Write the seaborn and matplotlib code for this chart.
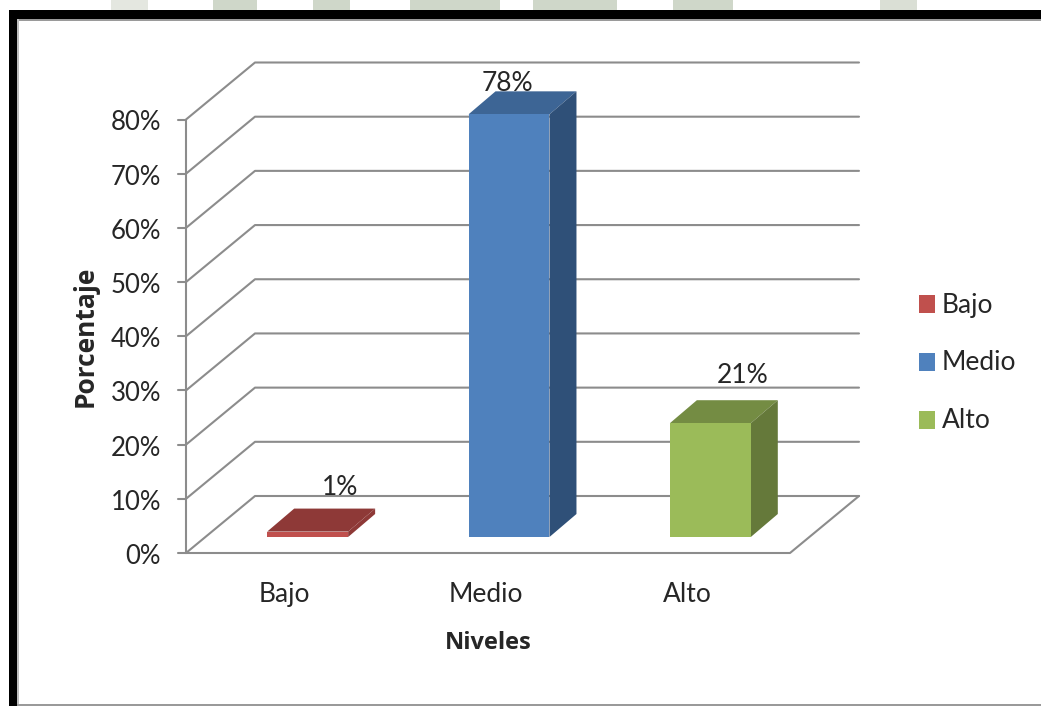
import seaborn as sns
import matplotlib.pyplot as plt
import pandas as pd
from matplotlib.patches import Polygon, Rectangle
from matplotlib.transforms import Affine2D, IdentityTransform

niveles = ['Bajo', 'Medio', 'Alto']
porcentajes = [1, 78, 21]
y_ticks = [0, 10, 20, 30, 40, 50, 60, 70, 80]

# front, top and side face colours
colores = ['#C0504D', '#4F81BD', '#9BBB59']
colores_top = ['#8E3937', '#3D6595', '#748C43']
colores_side = ['#8E3937', '#2F5078', '#65793A']
gris = '#8C8C8C'

W, H = 1041, 706
# 3d offsets in pixels (display coords, y up)
WALL_DX, WALL_DY = 69, 57
BAR_DX, BAR_DY = 21, 16
DEPTH_DX, DEPTH_DY = 27, 23
# value label offset from the top centre of the front face
label_dx = [32, -2, 32]
label_dy = [44, 31, 48]
# bits of the page watermark above the frame: x start, x end, colour
marca = [(111, 148, '#E4E7E0'), (213, 257, '#CFD7C9'), (313, 350, '#CFD7C9'), (410, 500, '#CFD7C9'),
         (533, 617, '#CFD7C9'), (673, 733, '#CFD7C9'), (880, 917, '#DADFD5')]

sns.set_style('white')
plt.rcParams['font.family'] = ['Lato', 'DejaVu Sans']
plt.rcParams['text.color'] = '#262626'
plt.rcParams['xtick.color'] = '#262626'
plt.rcParams['ytick.color'] = '#262626'

df = pd.DataFrame({'nivel': niveles, 'pct': porcentajes})

fig = plt.figure(figsize=(W / 100, H / 100), dpi=100, facecolor='white')
ax = fig.add_axes([186 / W, (H - 553) / H, 604 / W, 433.5 / H])

# seaborn draws the front faces
sns.barplot(data=df, x='nivel', y='pct', hue='nivel', order=niveles, hue_order=niveles,
            palette=colores, saturation=1, width=0.402, dodge=False, legend=False,
            edgecolor='none', linewidth=0, ax=ax)
ax.set_ylim(0, 80)
ax.set_xlim(-0.5, 2.5)
ax.patch.set_alpha(0)
sns.despine(ax=ax, left=True, bottom=True, top=True, right=True)
fig.canvas.draw()

ident = IdentityTransform()
to_px = ax.transData.transform

# walls and gridlines
x0 = to_px((-0.5, 0))[0]
x1 = to_px((2.5, 0))[0]
for v in y_ticks:
    y = to_px((0, v))[1]
    ax.plot([x0, x0 + WALL_DX, x1 + WALL_DX], [y, y + WALL_DY, y + WALL_DY], color=gris, lw=1.5,
            transform=ident, clip_on=False, zorder=1)
    ax.plot([x0 - 8, x0], [y, y], color=gris, lw=1.5, transform=ident, clip_on=False, zorder=1)
y_0 = to_px((0, 0))[1]
y_80 = to_px((0, 80))[1]
ax.plot([x0, x0], [y_0, y_80], color=gris, lw=1.5, transform=ident, clip_on=False, zorder=1)
ax.plot([x0, x1, x1 + WALL_DX], [y_0, y_0, y_0 + WALL_DY], color=gris, lw=1.5,
        transform=ident, clip_on=False, zorder=1)

# move the bars back into the chart and add top and side faces
shift = ax.transData + Affine2D().translate(BAR_DX, BAR_DY)
for i, bar in enumerate(ax.patches):
    bar.set_transform(shift)
    bar.set_clip_on(False)
    bar.set_zorder(4)
    bx0, by0 = shift.transform((bar.get_x(), 0))
    bx1, by1 = shift.transform((bar.get_x() + bar.get_width(), bar.get_height()))
    top = [(bx0, by1), (bx1, by1), (bx1 + DEPTH_DX, by1 + DEPTH_DY), (bx0 + DEPTH_DX, by1 + DEPTH_DY)]
    side = [(bx1, by0), (bx1 + DEPTH_DX, by0 + DEPTH_DY), (bx1 + DEPTH_DX, by1 + DEPTH_DY), (bx1, by1)]
    ax.add_patch(Polygon(top, closed=True, fc=colores_top[i], ec='none', transform=ident,
                         clip_on=False, zorder=3))
    ax.add_patch(Polygon(side, closed=True, fc=colores_side[i], ec='none', transform=ident,
                         clip_on=False, zorder=3))
    # the 78% label sits behind the bar top in the original
    ax.text(0.5 * (bx0 + bx1) + label_dx[i], by1 + label_dy[i], str(porcentajes[i]) + '%', fontsize=19,
            ha='center', va='center', transform=ident, clip_on=False, zorder=2)

# axis text
ax.set_yticks(y_ticks)
ax.set_yticklabels([str(v) + '%' for v in y_ticks], fontsize=18.5)
ax.set_xticks(range(len(niveles)))
ax.set_xticklabels(niveles, fontsize=19)
ax.tick_params(axis='y', length=0, pad=18)
ax.tick_params(axis='x', length=0, pad=21)
for lab in ax.get_xticklabels():
    lab.set_transform(lab.get_transform() + Affine2D().translate(-2, 0))
for lab in ax.get_yticklabels():
    lab.set_transform(lab.get_transform() + Affine2D().translate(0, -1))
ax.set_xlabel('')
ax.set_ylabel('')
fig.text(488 / W, (H - 643) / H, 'Niveles', fontsize=17, fontweight='bold', family='Open Sans',
         ha='center', va='center')
fig.text(85 / W, (H - 336) / H, 'Porcentaje', fontsize=19, fontweight='bold', family='Open Sans',
         ha='center', va='center', rotation=90)

# legend
for i, nivel in enumerate(niveles):
    y = 304 + 58 * i
    fig.add_artist(Rectangle((919 / W, (H - y - 9) / H), 15.5 / W, 18 / H, fc=colores[i], ec='none',
                             transform=fig.transFigure))
    fig.text(942 / W, (H - y - 1) / H, nivel, fontsize=19, ha='left', va='center')

# watermark peeking out over the frame
for xa, xb, c in marca:
    fig.add_artist(Rectangle((xa / W, (H - 10) / H), (xb - xa) / W, 10 / H, fc=c, ec='none',
                             transform=fig.transFigure))

# black frame of the picture
fig.add_artist(Rectangle((9 / W, 0), 8 / W, (H - 10) / H, fc='black', ec='none'))
fig.add_artist(Rectangle((9 / W, (H - 19) / H), (W - 9) / W, 9 / H, fc='black', ec='none'))
fig.add_artist(Rectangle((17 / W, (H - 21) / H), (W - 17) / W, 2 / H, fc='#9A9A9A', ec='none'))
fig.add_artist(Rectangle((17 / W, 0), 2 / W, (H - 19) / H, fc='#BDBDBD', ec='none'))
fig.add_artist(Rectangle((17 / W, 0), (W - 17) / W, 2 / H, fc='#9A9A9A', ec='none'))

plt.savefig('out.png', dpi=100)
plt.close()
